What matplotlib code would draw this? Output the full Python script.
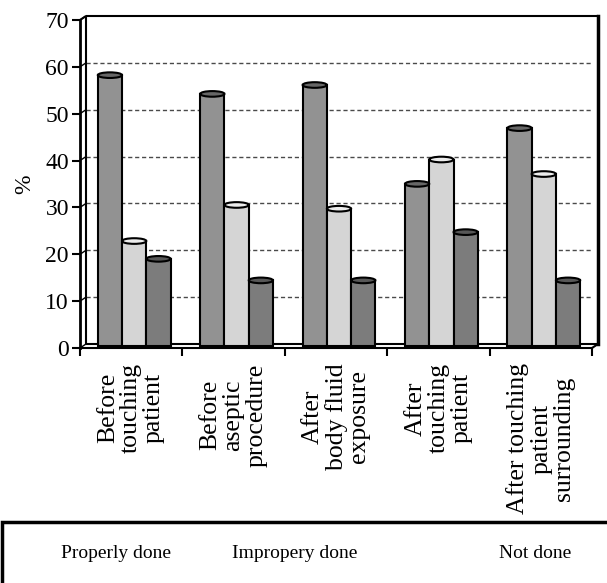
import matplotlib.pyplot as plt
from matplotlib.patches import Ellipse, Rectangle

# hand hygiene compliance per WHO moment (%)
categories = ['Before\ntouching\npatient', 'Before\naseptic\nprocedure',
              'After\nbody fluid\nexposure', 'After\ntouching\npatient',
              'After touching\npatient\nsurrounding']
properly = [57.8, 53.8, 55.7, 34.6, 46.5]
improperly = [22.4, 30.1, 29.3, 39.8, 36.7]
not_done = [18.6, 14.0, 14.0, 24.3, 14.0]
series_names = ['Properly done', 'Impropery done', 'Not done']
y_ticks = [0, 10, 20, 30, 40, 50, 60, 70]

plt.rcParams['font.family'] = 'Liberation Serif'

W, H = 607, 583
fig = plt.figure(figsize=(W / 100, H / 100), dpi=100)
ax = fig.add_axes([80 / W, 1 - 348 / H, 512 / W, 328 / H])
ax.set_xlim(-0.5, 4.5)
ax.set_ylim(0, 70)

# depth of the 3d box, in data units
dx = 6 / (512 / 5)
dy = 4 / (328 / 70)
lw = 1.5

# back wall and floor
x0, x1 = -0.5, 4.5
kw = dict(color='black', lw=lw, clip_on=False, solid_capstyle='butt')
ax.plot([x0 + dx, x0 + dx], [dy, 70 + dy], **kw)
ax.plot([x0 + dx, x1 + dx], [70 + dy, 70 + dy], **kw)
ax.plot([x1 + dx, x1 + dx], [dy, 70 + dy], lw=2.5, color='black', clip_on=False)
ax.plot([x0 + dx, x1 + dx], [dy, dy], **kw)
ax.plot([x0, x0 + dx], [70, 70 + dy], **kw)
ax.plot([x1, x1 + dx], [0, dy], **kw)
for v in y_ticks:
    ax.plot([x0, x0 + dx], [v, v + dy], color='black', lw=1.0, clip_on=False)
for v in y_ticks[1:-1]:
    ax.plot([x0 + dx, x1 + dx], [v + dy, v + dy], color='#4a4a4a', lw=1.0,
            dashes=(3, 2), zorder=1)

# cylinders
bw = 0.237
colors = ['#929292', '#d5d5d5', '#7c7c7c']
tops = ['#666666', '#ececec', '#575757']
for j, vals in enumerate([properly, improperly, not_done]):
    xs = [i + (j - 1) * bw + dx / 2 for i in range(len(categories))]
    ax.bar(xs, vals, width=bw, bottom=dy / 2, color=colors[j],
           edgecolor='black', linewidth=lw, zorder=3)
    for x, v in zip(xs, vals):
        ax.add_patch(Ellipse((x, v + dy / 2), bw, 1.2, facecolor=tops[j],
                             edgecolor='black', linewidth=lw, zorder=4))

for s in ['top', 'right']:
    ax.spines[s].set_visible(False)
ax.spines['left'].set_linewidth(2)
ax.spines['bottom'].set_linewidth(lw)

ax.set_yticks(y_ticks)
ax.tick_params(axis='y', length=6, width=lw, labelsize=17, pad=2)
ax.set_xticks(range(len(categories)))
ax.set_xticklabels(categories, rotation=90, va='top', ha='center',
                   multialignment='center', linespacing=1.05, fontsize=18.5)
ax.tick_params(axis='x', which='major', length=0, pad=11)
ax.set_xticks([i - 0.5 for i in range(len(categories) + 1)], minor=True)
ax.tick_params(axis='x', which='minor', length=6, width=lw, direction='out')

ax.set_ylabel('%', fontsize=17)
ax.yaxis.set_label_coords(-0.088, 0.5)

# legend box
fig.add_artist(Rectangle((2 / W, -0.1), 1.1, 0.1 + (583 - 522) / H,
                         transform=fig.transFigure, fill=False,
                         edgecolor='black', linewidth=2.5))
for name, xp in zip(series_names, [61, 232, 499]):
    fig.text(xp / W, 1 - 553 / H, name, fontsize=14, va='center', ha='left')

fig.savefig('out.png', dpi=100)
